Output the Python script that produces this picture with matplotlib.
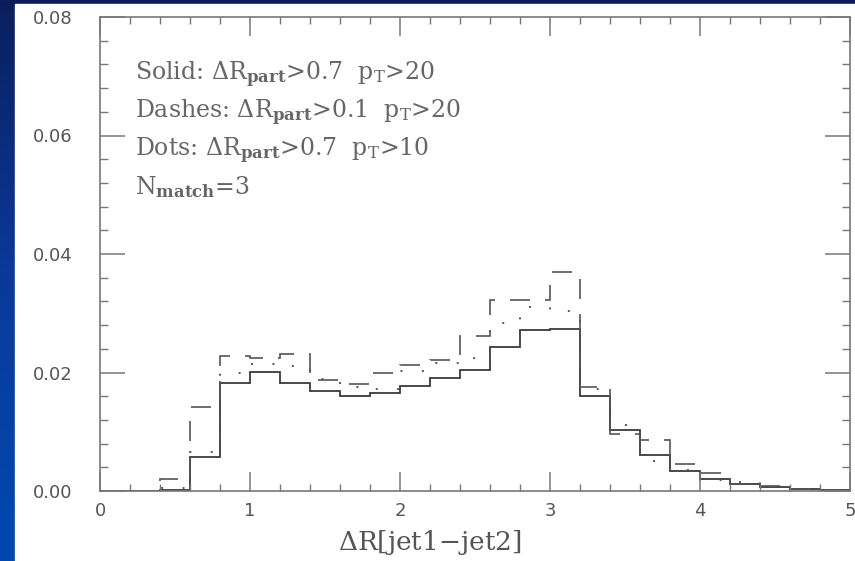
"""Delta-R between the two leading jets for three matching settings."""

import numpy as np
import matplotlib.pyplot as plt
from matplotlib.colors import LinearSegmentedColormap
from matplotlib.patches import Rectangle

plt.rcParams["mathtext.fontset"] = "dejavuserif"

# bin edges in Delta R, 0.2 wide
bin_edges = np.linspace(0.0, 5.0, 26)

# normalised distributions per bin
solid_vals = [0, 0, 0.0002, 0.0058, 0.0183, 0.0201, 0.0182, 0.0169, 0.0161,
              0.0165, 0.0177, 0.0191, 0.0204, 0.0243, 0.0271, 0.0273, 0.0161,
              0.0103, 0.0061, 0.0034, 0.0020, 0.0011, 0.0006, 0.0003, 0.0002]
dashed_vals = [0, 0, 0.0020, 0.0141, 0.0228, 0.0225, 0.0231, 0.0187, 0.0180,
               0.0199, 0.0213, 0.0221, 0.0262, 0.0322, 0.0322, 0.0369, 0.0176,
               0.0096, 0.0086, 0.0046, 0.0031, 0.0012, 0.0009, 0.0003, 0.0002]
dotted_vals = [0, 0, 0.0005, 0.0066, 0.0199, 0.0215, 0.0211, 0.0189, 0.0175,
               0.0172, 0.0202, 0.0216, 0.0224, 0.0283, 0.0311, 0.0303, 0.0172,
               0.0111, 0.0051, 0.0035, 0.0019, 0.0015, 0.0008, 0.0003, 0.0002]

x_ticks = [0, 1, 2, 3, 4, 5]
y_ticks = [0.00, 0.02, 0.04, 0.06, 0.08]

notes = [
    r"Solid: $\Delta$R$_{\mathbf{part}}$>0.7  p$_\mathrm{T}$>20",
    r"Dashes: $\Delta$R$_{\mathbf{part}}$>0.1  p$_\mathrm{T}$>20",
    r"Dots: $\Delta$R$_{\mathbf{part}}$>0.7  p$_\mathrm{T}$>10",
    r"N$_{\mathbf{match}}$=3",
]

W, H = 855, 561
fig = plt.figure(figsize=(W / 100, H / 100), dpi=100)

# slide background: blue gradient with a white panel on top
bg = fig.add_axes([0, 0, 1, 1])
bg.set_axis_off()
slide = LinearSegmentedColormap.from_list("slide", ["#0b1f5e", "#0a3a9a", "#0049b0"])
bg.imshow(np.linspace(0, 1, 256).reshape(-1, 1), cmap=slide, aspect="auto",
          extent=[0, 1, 0, 1])
bg.add_patch(Rectangle((0, 1 - 4 / H), 1, 4 / H, color="#0a1d58"))
bg.add_patch(Rectangle((15 / W, 0), 1 - 15 / W, 1 - 4 / H, color="white"))
bg.set_xlim(0, 1)
bg.set_ylim(0, 1)

ax = fig.add_axes([100 / W, 1 - 491 / H, 750 / W, 474 / H])
ax.set_facecolor("none")

line_col = "#3a3a3a"
ax.stairs(solid_vals, bin_edges, color=line_col, linewidth=1.3)
ax.stairs(dashed_vals, bin_edges, color="#555555", linewidth=1.2,
          linestyle=(0, (12, 9)))
ax.stairs(dotted_vals, bin_edges, color="#555555", linewidth=1.4,
          linestyle=(0, (1, 10)))

ax.set_xlim(0, 5)
ax.set_ylim(0, 0.08)
ax.set_xticks(x_ticks)
ax.set_yticks(y_ticks)
ax.set_xticklabels([str(t) for t in x_ticks])
ax.set_yticklabels([f"{t:.2f}" for t in y_ticks])
ax.set_xticks(np.arange(0, 5.01, 0.2), minor=True)
ax.set_yticks(np.arange(0, 0.0801, 0.004), minor=True)

tick_col = "#777777"
ax.tick_params(axis="both", which="both", direction="in", top=True, right=True,
               color=tick_col, labelcolor="#555555", labelsize=13)
ax.tick_params(axis="x", which="major", length=14, width=1.1, pad=8)
ax.tick_params(axis="x", which="minor", length=5, width=1.0)
ax.tick_params(axis="y", which="major", length=18, width=1.1, pad=20)
ax.tick_params(axis="y", which="minor", length=6, width=1.0)
for side in ax.spines.values():
    side.set_color(tick_col)
    side.set_linewidth(1.2)

# notes block, one line every ~38 px
for i, txt in enumerate(notes):
    fig.text(135 / W, 1 - (80 + i * 38) / H, txt, family="DejaVu Serif",
             fontsize=17, color="#666666", va="baseline")

fig.text(430 / W, 1 - 550 / H, r"$\Delta$R[jet1$-$jet2]", family="DejaVu Serif",
         fontsize=19, color="#555555", ha="center", va="baseline")

fig.savefig("out.png", dpi=100)
